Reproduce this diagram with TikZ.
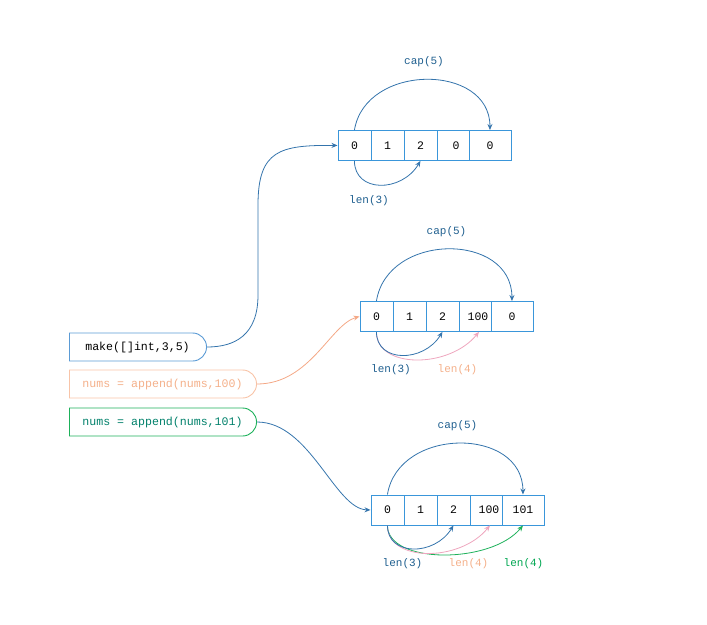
\documentclass[tikz,border=0pt]{standalone}
\usepackage{fontspec}
\setmonofont{Liberation Mono}
\usetikzlibrary{arrows.meta,shapes.misc,calc}
\definecolor{cellblue}{HTML}{3A96DA}
\definecolor{arcblue}{HTML}{3474AC}
\definecolor{lblblue}{HTML}{1F5F8F}
\definecolor{boxblue}{HTML}{5B9BD5}
\definecolor{salmon}{HTML}{F8C4A8}
\definecolor{salmontext}{HTML}{F4B08A}
\definecolor{salmonarc}{HTML}{F4A886}
\definecolor{pinkarc}{HTML}{EEA6BE}
\definecolor{greenline}{HTML}{1DB15A}
\definecolor{greentext}{HTML}{00806A}
\definecolor{greenlbl}{HTML}{00A651}
\begin{document}
\begin{tikzpicture}[x=1pt,y=-1pt,
  font=\ttfamily\fontsize{11}{13}\selectfont,
  cell/.style={draw=cellblue, line width=0.9pt, minimum height=30pt, inner sep=0pt, anchor=north west, font=\ttfamily\fontsize{11.5}{13}\selectfont},
  cw/.style={minimum width=#1pt},
  cmd/.style={draw=#1, line width=0.9pt, rounded rectangle, rounded rectangle west arc=none, minimum height=28pt, inner sep=0pt, font=\ttfamily\fontsize{11.6}{13}\selectfont},
  tip/.style={-{Stealth[length=6pt,width=5pt]}},
  arcline/.style={draw=arcblue, line width=0.8pt, tip},
  lbl/.style={text=lblblue, inner sep=0pt}]
\useasboundingbox (0,0) rectangle (707,624);

% ---------- command boxes ----------
\node[cmd=boxblue, minimum width=137pt] (b1) at (137.5,347) {make([]int,3,5)};
\node[cmd=salmon, minimum width=187pt, text=salmontext] (b2) at (162.5,384) {nums = append(nums,100)};
\node[cmd=greenline, minimum width=187pt, text=greentext] (b3) at (162.5,422) {nums = append(nums,101)};

% ---------- array 1 ----------
\node[cell, cw=33] (p0) at (337.5,130) {0};
\node[cell, cw=33] (p1) at (370.5,130) {1};
\node[cell, cw=33] (p2) at (403.5,130) {2};
\node[cell, cw=32] (p3) at (436.5,130) {\hspace*{6pt}0};
\node[cell, cw=42] (p4) at (468.5,130) {0};

% ---------- array 2 ----------
\node[cell, cw=33] (q0) at (359.5,301) {0};
\node[cell, cw=33] (q1) at (392.5,301) {1};
\node[cell, cw=33] (q2) at (425.5,301) {2};
\node[cell, cw=32] (q3) at (458.5,301) {\hspace*{6pt}100};
\node[cell, cw=42] (q4) at (490.5,301) {0};

% ---------- array 3 ----------
\node[cell, cw=33] (r0) at (370.5,494.5) {0};
\node[cell, cw=33] (r1) at (403.5,494.5) {1};
\node[cell, cw=33] (r2) at (436.5,494.5) {2};
\node[cell, cw=32] (r3) at (469.5,494.5) {\hspace*{6pt}100};
\node[cell, cw=42] (r4) at (501.5,494.5) {101};

% ---------- labels ----------
\node[lbl] (pcap) at (424,62) {cap(5)};
\node[lbl] (plen) at (369,201) {len(3)};
\node[lbl] (qcap) at (446.5,232) {cap(5)};
\node[lbl] (qlen) at (391,370) {len(3)};
\node[lbl, text=salmontext] (qlen4) at (457.5,370) {len(4)};
\node[lbl] (rcap) at (457.5,426) {cap(5)};
\node[lbl] (rlen) at (402.5,564) {len(3)};
\node[lbl, text=salmontext] (rlen4) at (468.5,564) {len(4)};
\node[lbl, text=greenlbl] (rlen4g) at (523.5,564) {len(4)};

% ---------- arcs array 1 ----------
\draw[arcline] (p0.north) .. controls ($(p0.north)+(11,-67)$) and ($(p4.north)+(0,-67)$) .. (p4.north);
\draw[arcline] (p0.south) .. controls ($(p0.south)+(0,32)$) and ($(p2.south)+(-19,32)$) .. (p2.south);

% ---------- arcs array 2 ----------
\draw[arcline] (q0.north) .. controls ($(q0.north)+(11,-69)$) and ($(q4.north)+(0,-69)$) .. (q4.north);
\draw[draw=pinkarc, line width=0.8pt, tip] (q0.south) .. controls ($(q0.south)+(0,37)$) and ($(q3.south)+(-26,37)$) .. ([xshift=4pt]q3.south);
\draw[arcline] (q0.south) .. controls ($(q0.south)+(0,31)$) and ($(q2.south)+(-19,31)$) .. (q2.south);

% ---------- arcs array 3 ----------
\draw[arcline] (r0.north) .. controls ($(r0.north)+(11,-68)$) and ($(r4.north)+(0,-68)$) .. (r4.north);
\draw[draw=greenline, line width=0.8pt, tip] (r0.south) .. controls ($(r0.south)+(0,39)$) and ($(r4.south)+(-32,39)$) .. (r4.south);
\draw[draw=pinkarc, line width=0.8pt, tip] (r0.south) .. controls ($(r0.south)+(0,37)$) and ($(r3.south)+(-26,37)$) .. ([xshift=4pt]r3.south);
\draw[arcline] (r0.south) .. controls ($(r0.south)+(0,31)$) and ($(r2.south)+(-19,31)$) .. (r2.south);

% ---------- connectors ----------
\coordinate (k1) at (258,295);
\coordinate (k2) at (258,205);
\draw[arcline] (b1.east) .. controls (235,347) and (258,335) .. (k1) -- (k2) .. controls (258,150) and (280,145) .. (p0.west);
\draw[draw=salmonarc, line width=0.8pt, tip] (b2.east) .. controls (310,384) and (330,325) .. (q0.west);
\draw[arcline] (b3.east) .. controls (310,422) and (335,509) .. (r0.west);
\end{tikzpicture}
\end{document}
